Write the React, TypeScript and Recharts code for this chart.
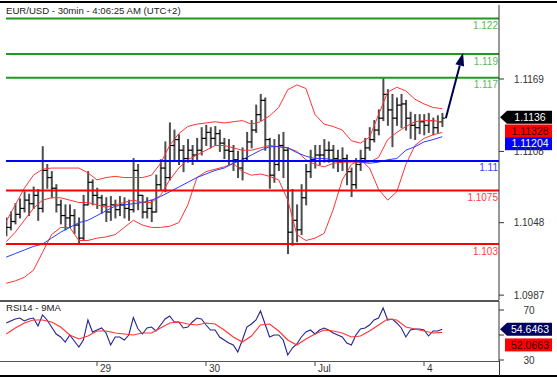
import React from 'react';
import { ComposedChart, Bar, Line, XAxis, YAxis, ReferenceLine } from 'recharts';

const FONT = '"Liberation Sans", Arial, sans-serif';

// hourly bars, hour 4 = Jun 28 04:00 (trading hours, weekend skipped)
const firstHour = 4;

const open = [
  1.1040, 1.1044, 1.1049, 1.1055, 1.1060, 1.1067, 1.1064, 1.1071, 1.1060, 1.1092,
  1.1086, 1.1077, 1.1063, 1.1054, 1.1052, 1.1054, 1.1046, 1.1035, 1.1063, 1.1082,
  1.1071, 1.1069, 1.1063, 1.1057, 1.1063, 1.1059, 1.1063, 1.1060, 1.1059, 1.1092,
  1.1071, 1.1057, 1.1060, 1.1057, 1.1080, 1.1094, 1.1086, 1.1113, 1.1118, 1.1109,
  1.1102, 1.1109, 1.1105, 1.1109, 1.1119, 1.1124, 1.1119, 1.1123, 1.1115, 1.1109,
  1.1108, 1.1101, 1.1094, 1.1102, 1.1116, 1.1126, 1.1139, 1.1151, 1.1118, 1.1088,
  1.1097, 1.1113, 1.1109, 1.1040, 1.1050, 1.1042, 1.1069, 1.1091, 1.1101, 1.1105,
  1.1105, 1.1109, 1.1109, 1.1102, 1.1099, 1.1102, 1.1091, 1.1080, 1.1097, 1.1102,
  1.1111, 1.1118, 1.1126, 1.1136, 1.1156, 1.1143, 1.1136, 1.1147, 1.1148, 1.1136,
  1.1130, 1.1128, 1.1133, 1.1130, 1.1134, 1.1128, 1.1133,
];

const high = [
  1.1052, 1.1057, 1.1064, 1.1068, 1.1074, 1.1072, 1.1078, 1.1076, 1.1112, 1.1097,
  1.1091, 1.1080, 1.1067, 1.1063, 1.1063, 1.1059, 1.1052, 1.1071, 1.1091, 1.1084,
  1.1077, 1.1071, 1.1069, 1.1070, 1.1067, 1.1070, 1.1069, 1.1067, 1.1102, 1.1097,
  1.1071, 1.1069, 1.1067, 1.1088, 1.1101, 1.1116, 1.1132, 1.1126, 1.1122, 1.1113,
  1.1118, 1.1113, 1.1119, 1.1128, 1.1130, 1.1128, 1.1129, 1.1126, 1.1119, 1.1118,
  1.1113, 1.1108, 1.1111, 1.1124, 1.1134, 1.1147, 1.1156, 1.1153, 1.1119, 1.1118,
  1.1122, 1.1124, 1.1111, 1.1076, 1.1063, 1.1080, 1.1097, 1.1109, 1.1113, 1.1113,
  1.1118, 1.1116, 1.1113, 1.1109, 1.1111, 1.1105, 1.1094, 1.1102, 1.1109, 1.1119,
  1.1128, 1.1134, 1.1143, 1.1170, 1.1160, 1.1156, 1.1153, 1.1156, 1.1151, 1.1141,
  1.1139, 1.1139, 1.1139, 1.1140, 1.1136, 1.1138, 1.1140,
];

const low = [
  1.1037, 1.1042, 1.1047, 1.1052, 1.1057, 1.1054, 1.1060, 1.1050, 1.1057, 1.1077,
  1.1069, 1.1057, 1.1047, 1.1042, 1.1044, 1.1039, 1.1031, 1.1033, 1.1063, 1.1063,
  1.1060, 1.1056, 1.1049, 1.1050, 1.1052, 1.1054, 1.1052, 1.1050, 1.1057, 1.1059,
  1.1052, 1.1052, 1.1049, 1.1057, 1.1076, 1.1074, 1.1084, 1.1101, 1.1097, 1.1091,
  1.1099, 1.1097, 1.1101, 1.1105, 1.1113, 1.1111, 1.1113, 1.1108, 1.1102, 1.1097,
  1.1092, 1.1086, 1.1084, 1.1101, 1.1111, 1.1124, 1.1134, 1.1109, 1.1077, 1.1082,
  1.1092, 1.1086, 1.1022, 1.1029, 1.1032, 1.1038, 1.1063, 1.1086, 1.1094, 1.1097,
  1.1099, 1.1099, 1.1094, 1.1091, 1.1092, 1.1080, 1.1070, 1.1077, 1.1092, 1.1101,
  1.1109, 1.1116, 1.1122, 1.1134, 1.1130, 1.1112, 1.1130, 1.1128, 1.1126, 1.1119,
  1.1118, 1.1123, 1.1122, 1.1124, 1.1122, 1.1124, 1.1129,
];

const close = [
  1.1044, 1.1049, 1.1055, 1.1060, 1.1067, 1.1064, 1.1071, 1.1060, 1.1092, 1.1086,
  1.1077, 1.1063, 1.1054, 1.1052, 1.1054, 1.1046, 1.1035, 1.1063, 1.1082, 1.1071,
  1.1069, 1.1063, 1.1057, 1.1063, 1.1059, 1.1063, 1.1060, 1.1059, 1.1092, 1.1071,
  1.1057, 1.1060, 1.1057, 1.1080, 1.1094, 1.1086, 1.1113, 1.1118, 1.1109, 1.1102,
  1.1109, 1.1105, 1.1109, 1.1119, 1.1124, 1.1119, 1.1123, 1.1115, 1.1109, 1.1108,
  1.1101, 1.1094, 1.1102, 1.1116, 1.1126, 1.1139, 1.1151, 1.1118, 1.1088, 1.1097,
  1.1113, 1.1109, 1.1040, 1.1050, 1.1042, 1.1069, 1.1091, 1.1101, 1.1105, 1.1105,
  1.1109, 1.1109, 1.1102, 1.1099, 1.1102, 1.1091, 1.1080, 1.1097, 1.1102, 1.1111,
  1.1118, 1.1126, 1.1136, 1.1156, 1.1143, 1.1136, 1.1147, 1.1148, 1.1136, 1.1130,
  1.1128, 1.1133, 1.1130, 1.1134, 1.1128, 1.1133, 1.1136,
];

// indicators sampled every 2 hours (hour 4, 6, ... 100)
const bbUpper = [
  1.1049, 1.1063, 1.1077, 1.1088, 1.1093, 1.1094, 1.1094, 1.1094, 1.1094, 1.1090,
  1.1084, 1.1086, 1.1087, 1.1086, 1.1086, 1.1086, 1.1088, 1.1098, 1.1113, 1.1123,
  1.1129, 1.1131, 1.1132, 1.1133, 1.1132, 1.1133, 1.1134, 1.1131, 1.1133, 1.1138,
  1.1145, 1.1160, 1.1164, 1.1161, 1.1139, 1.1131, 1.1129, 1.1126, 1.1117, 1.1115,
  1.1120, 1.1139, 1.1158, 1.1162, 1.1159, 1.1152, 1.1148, 1.1145, 1.1144,
];
const bbMid = [
  1.1032, 1.1040, 1.1050, 1.1060, 1.1067, 1.1069, 1.1069, 1.1067, 1.1065, 1.1065,
  1.1063, 1.1061, 1.1063, 1.1065, 1.1067, 1.1065, 1.1065, 1.1071, 1.1084, 1.1094,
  1.1101, 1.1105, 1.1109, 1.1113, 1.1113, 1.1111, 1.1109, 1.1109, 1.1111, 1.1113,
  1.1112, 1.1111, 1.1108, 1.1101, 1.1097, 1.1095, 1.1098, 1.1099, 1.1099, 1.1099,
  1.1099, 1.1103, 1.1118, 1.1124, 1.1129, 1.1133, 1.1134, 1.1134, 1.11328,
];
const bbLower = [
  1.0997, 1.0999, 1.1002, 1.1008, 1.1023, 1.1038, 1.1044, 1.1044, 1.1033, 1.1033,
  1.1035, 1.1036, 1.1038, 1.1044, 1.1050, 1.1046, 1.1044, 1.1044, 1.1045, 1.1048,
  1.1063, 1.1086, 1.1091, 1.1093, 1.1095, 1.1098, 1.1091, 1.1088, 1.1089, 1.1087,
  1.1084, 1.1067, 1.1038, 1.1033, 1.1035, 1.1039, 1.1059, 1.1084, 1.1097, 1.1101,
  1.1094, 1.1076, 1.1067, 1.1074, 1.1097, 1.1113, 1.1119, 1.1122, 1.1124,
];
const longMa = [
  1.1019, 1.1022, 1.1025, 1.1028, 1.1030, 1.1035, 1.1040, 1.1044, 1.1048, 1.1050,
  1.1054, 1.1058, 1.1062, 1.1063, 1.1064, 1.1065, 1.1067, 1.1070, 1.1074, 1.1078,
  1.1082, 1.1086, 1.1089, 1.1092, 1.1094, 1.1098, 1.1101, 1.1105, 1.1109, 1.1112,
  1.1112, 1.1111, 1.1107, 1.1104, 1.1102, 1.1102, 1.1101, 1.1101, 1.1100, 1.1099,
  1.1098, 1.1099, 1.1101, 1.1102, 1.1109, 1.1112, 1.1116, 1.1118, 1.11204,
];

const rsi14 = [
  59.6, 61.2, 62.8, 63.6, 61.2, 62.8, 63.6, 57.2, 66.0, 62.0,
  56.4, 50.8, 48.4, 44.4, 50.0, 45.2, 40.4, 46.0, 62.0, 52.4,
  54.0, 55.6, 51.6, 42.0, 48.4, 48.4, 46.0, 50.0, 64.0, 55.0,
  50.8, 55.6, 56.4, 53.2, 58.0, 62.8, 65.2, 60.4, 60.4, 55.6,
  56.4, 60.4, 63.6, 62.8, 58.0, 54.0, 54.0, 48.4, 46.0, 43.6,
  42.0, 36.4, 46.0, 56.4, 58.8, 62.0, 69.2, 58.8, 48.4, 50.0,
  50.0, 46.0, 34.0, 39.6, 42.8, 48.4, 52.4, 54.0, 50.8, 54.0,
  55.6, 54.0, 51.6, 50.0, 48.4, 43.6, 42.0, 50.0, 54.8, 55.6,
  58.0, 62.0, 63.6, 71.6, 62.0, 62.8, 59.6, 55.6, 48.4, 54.0,
  54.8, 54.8, 54.0, 49.2, 53.2, 53.2, 54.6463,
];
const rsiMa9 = [
  50.8, 55.6, 59.6, 62.0, 62.0, 60.4, 56.4, 50.0, 46.8, 49.2,
  53.2, 53.2, 51.6, 50.8, 50.0, 51.6, 51.6, 55.6, 59.6, 60.4,
  58.8, 58.0, 59.6, 58.8, 54.0, 48.4, 44.4, 49.2, 58.0, 58.8,
  53.2, 46.0, 42.0, 46.8, 50.8, 54.0, 53.2, 51.6, 48.4, 49.2,
  53.2, 58.0, 62.8, 62.0, 56.4, 54.8, 53.2, 51.6, 52.0663,
];

const greenLevels = [1.122, 1.119, 1.117];
const blueLevels = [1.11];
const redLevels = [1.1075, 1.103];

const dayTicks = [24, 48, 72, 96];
const dayLabels = ['29', '30', 'Jul', '4'];
const priceTicks = [1.0987, 1.1048, 1.1108, 1.1169];
const rsiTicks = [30, 50, 70];

// target arrow: from last bar up to the 1.119 area
const arrowFrom = { x: 100.8, y: 1.1136 };
const arrowTo = { x: 104.6, y: 1.1191 };

const xDomain = [3.96, 112.51];
const priceDomain = [1.09829, 1.12313];
const rsiDomain = [29.2, 77.2];

const priceRows = close.map((c, i) => {
  const k = i % 2 === 0 ? i / 2 : -1;
  return {
    h: firstHour + i,
    open: open[i],
    high: high[i],
    low: low[i],
    close: c,
    range: [low[i], high[i]],
    upper: k >= 0 ? bbUpper[k] : null,
    mid: k >= 0 ? bbMid[k] : null,
    lower: k >= 0 ? bbLower[k] : null,
    ma: k >= 0 ? longMa[k] : null,
  };
});

const rsiRows = rsi14.map((v, i) => ({
  h: firstHour + i,
  rsi: v,
  rsiMa: i % 2 === 0 ? rsiMa9[i / 2] : null,
}));

const OhlcBar = (props: any) => {
  const { x, y, width, height, payload } = props;
  if (x == null || y == null) return null;
  const cx = x + width / 2;
  const top = Math.min(y, y + height);
  const bot = Math.max(y, y + height);
  const span = payload.high - payload.low || 1;
  const yO = top + ((payload.high - payload.open) / span) * (bot - top);
  const yC = top + ((payload.high - payload.close) / span) * (bot - top);
  return (
    <g>
      <line x1={cx} x2={cx} y1={top - 0.5} y2={bot + 0.5} stroke="#4d4d4d" strokeWidth={2} />
      <line x1={cx - 2.4} x2={cx} y1={yO} y2={yO} stroke="#000" strokeWidth={1.2} />
      <line x1={cx} x2={cx + 2.4} y1={yC} y2={yC} stroke="#000" strokeWidth={1.2} />
    </g>
  );
};

const ArrowShape = (p: any) => {
  const { x1, y1, x2, y2 } = p;
  if (x1 == null) return null;
  const ang = Math.atan2(y2 - y1, x2 - x1);
  const len = 13;
  const half = 4.5;
  const bx = x2 - len * Math.cos(ang);
  const by = y2 - len * Math.sin(ang);
  const px = -Math.sin(ang) * half;
  const py = Math.cos(ang) * half;
  return (
    <g>
      <line x1={x1} y1={y1} x2={bx} y2={by} stroke="#00004d" strokeWidth={2} />
      <polygon points={`${x2},${y2} ${bx + px},${by + py} ${bx - px},${by - py}`} fill="#00004d" />
    </g>
  );
};

const levelLabel = (text: string, color: string) => (props: any) => {
  const vb = props.viewBox;
  if (!vb) return null;
  return (
    <text x={vb.x + vb.width - 1} y={vb.y + 10.5} textAnchor="end" fontSize={10} fill={color} fontFamily={FONT}>
      {text}
    </text>
  );
};

const valueTag = (text: string, bg: string, fg: string, dy: number, pointer: boolean) => (props: any) => {
  const vb = props.viewBox;
  if (!vb) return null;
  const r = vb.x + vb.width;
  const cy = vb.y + dy;
  const shape = pointer
    ? <polygon points={`${r + 1},${cy} ${r + 8},${cy - 6.5} ${552},${cy - 6.5} ${552},${cy + 6.5} ${r + 8},${cy + 6.5}`} fill={bg} />
    : <rect x={r + 6} y={cy - 6.5} width={552 - r - 6} height={13} fill={bg} />;
  return (
    <g>
      {shape}
      <text x={530} y={cy + 3.6} textAnchor="middle" fontSize={10.5} fill={fg} fontFamily={FONT}>
        {text}
      </text>
    </g>
  );
};

const YTick = (props: any) => {
  const { x, y, payload, hidden } = props;
  if (hidden && hidden.includes(payload.value)) return null;
  return (
    <text x={x + 25} y={y + 3.6} textAnchor="middle" fontSize={10} fill="#333" fontFamily={FONT}>
      {payload.value}
    </text>
  );
};

const DayTick = (props: any) => {
  const { x, y, payload } = props;
  const idx = dayTicks.indexOf(payload.value);
  return (
    <g>
      <line x1={x} x2={x} y1={y} y2={y + 5} stroke="#444" strokeWidth={1} />
      <text x={x + 3} y={y + 10.5} fontSize={10} fill="#333" fontFamily={FONT}>
        {dayLabels[idx]}
      </text>
    </g>
  );
};

const hline = (top: number, left: number, width: number, color: string, h = 1) => (
  <div style={{ position: 'absolute', top, left, width, height: h, background: color }} />
);

export default function App() {
  const lastClose = close[close.length - 1];
  const lastMid = bbMid[bbMid.length - 1];
  const lastMa = longMa[longMa.length - 1];
  const lastRsi = rsi14[rsi14.length - 1];
  const lastRsiMa = rsiMa9[rsiMa9.length - 1];

  return (
    <div style={{ position: 'absolute', left: 0, top: 0, width: 557, height: 378, background: '#fff', overflow: 'hidden', fontFamily: FONT }}>
      <div style={{ position: 'absolute', left: 0, top: 0 }}>
        <ComposedChart width={557} height={301} data={priceRows} margin={{ top: 5, right: 0, bottom: 1, left: 6 }}>
          <XAxis dataKey="h" type="number" domain={xDomain} allowDataOverflow hide />
          <YAxis
            orientation="right"
            width={58}
            type="number"
            domain={priceDomain}
            allowDataOverflow
            ticks={priceTicks}
            interval={0}
            axisLine={{ stroke: '#333' }}
            tickLine={{ stroke: '#333' }}
            tickSize={5}
            tickMargin={0}
            tick={<YTick />}
          />
          <Bar dataKey="range" barSize={3} shape={OhlcBar} isAnimationActive={false} />
          <Line dataKey="upper" stroke="#ff3333" strokeWidth={1} dot={false} connectNulls isAnimationActive={false} />
          <Line dataKey="mid" stroke="#ff3333" strokeWidth={1} dot={false} connectNulls isAnimationActive={false} />
          <Line dataKey="lower" stroke="#ff3333" strokeWidth={1} dot={false} connectNulls isAnimationActive={false} />
          <Line dataKey="ma" stroke="#2a3cff" strokeWidth={1} dot={false} connectNulls isAnimationActive={false} />
          {greenLevels.map((v) => (
            <ReferenceLine key={'g' + v} y={v} stroke="#1f9a1f" strokeWidth={2} label={levelLabel(String(v), '#5cb85c')} />
          ))}
          {blueLevels.map((v) => (
            <ReferenceLine key={'b' + v} y={v} stroke="#0000ff" strokeWidth={2} label={levelLabel(String(v), '#4040ff')} />
          ))}
          {redLevels.map((v) => (
            <ReferenceLine key={'r' + v} y={v} stroke="#ff0000" strokeWidth={2} label={levelLabel(String(v), '#ff4040')} />
          ))}
          <ReferenceLine segment={[arrowFrom, arrowTo]} stroke="#00004d" strokeWidth={2} shape={ArrowShape} ifOverflow="visible" />
          <ReferenceLine y={lastClose} stroke="none" label={valueTag('1.1136', '#000', '#fff', -1, true)} />
          <ReferenceLine y={lastMid} stroke="none" label={valueTag('1.11328', '#ff0000', '#3a0000', 9, false)} />
          <ReferenceLine y={lastMa} stroke="none" label={valueTag('1.11204', '#0000ff', '#fff', 7, false)} />
        </ComposedChart>
      </div>

      <div style={{ position: 'absolute', left: 0, top: 290 }}>
        <ComposedChart width={557} height={88} data={rsiRows} margin={{ top: 11, right: 0, bottom: 0, left: 6 }}>
          <XAxis
            dataKey="h"
            type="number"
            domain={xDomain}
            allowDataOverflow
            ticks={dayTicks}
            interval={0}
            height={17}
            axisLine={false}
            tickLine={false}
            tickSize={0}
            tickMargin={0}
            tick={<DayTick />}
          />
          <YAxis
            orientation="right"
            width={58}
            type="number"
            domain={rsiDomain}
            allowDataOverflow
            ticks={rsiTicks}
            interval={0}
            axisLine={{ stroke: '#333' }}
            tickLine={{ stroke: '#333' }}
            tickSize={5}
            tickMargin={0}
            tick={<YTick hidden={[50]} />}
          />
          <Line dataKey="rsi" stroke="#232390" strokeWidth={1.1} dot={false} isAnimationActive={false} />
          <Line dataKey="rsiMa" stroke="#ff3333" strokeWidth={1.1} dot={false} connectNulls isAnimationActive={false} />
          <ReferenceLine y={lastRsi} stroke="none" label={valueTag('54.6463', '#00005e', '#fff', 0, true)} />
          <ReferenceLine y={lastRsiMa} stroke="none" label={valueTag('52.0663', '#ff0000', '#3a0000', 12.5, false)} />
        </ComposedChart>
      </div>

      {hline(1, 0, 557, '#000', 1.5)}
      {hline(300, 0, 499, '#555', 1.5)}
      {hline(361, 0, 499, '#555', 1)}
      {hline(375, 0, 557, '#000', 1.5)}
      <div style={{ position: 'absolute', left: 499, top: 361, width: 1, height: 15, background: '#333' }} />

      <div style={{ position: 'absolute', left: 6, top: 5, fontSize: 9.6, lineHeight: '12px', color: '#222', whiteSpace: 'nowrap' }}>
        EUR/USD - 30min - 4:06:25 AM (UTC+2)
      </div>
      <div style={{ position: 'absolute', left: 6, top: 302, fontSize: 9.6, lineHeight: '12px', color: '#222', whiteSpace: 'nowrap' }}>
        RSI14 - 9MA
      </div>
    </div>
  );
}
